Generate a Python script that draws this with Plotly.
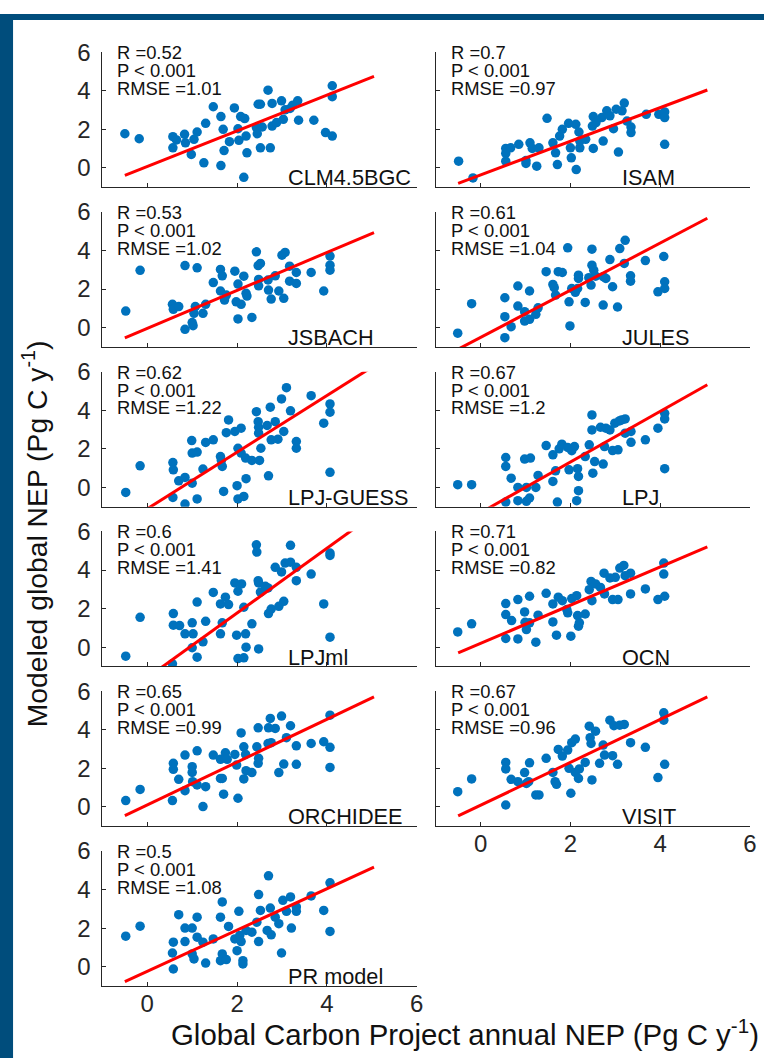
import plotly.graph_objects as go

W, H = 771, 1058

models = ["CLM4.5BGC", "ISAM", "JSBACH", "JULES", "LPJ-GUESS", "LPJ",
          "LPJml", "OCN", "ORCHIDEE", "VISIT", "PR model"]
r_vals = ["0.52", "0.7", "0.53", "0.61", "0.62", "0.67", "0.6", "0.71", "0.65", "0.67", "0.5"]
rmse_vals = ["1.01", "0.97", "1.02", "1.04", "1.22", "1.2", "1.41", "0.82", "0.99", "0.96", "1.08"]
slopes = [0.926, 0.872, 0.984, 1.223, 1.468, 1.314, 1.678, 0.991, 1.110, 1.112, 1.072]
intercepts = [0.071, -0.365, -0.038, -0.505, -1.109, -1.31, -1.583, 0.195, 0.105, 0.087, -0.244]
fit_x = [-0.5, 5.05]

clm_x = [-0.50, -0.18, 0.57, 0.57, 0.65, 0.83, 0.85, 0.98, 1.04, 1.11, 1.26, 1.30, 1.47, 1.64, 1.64, 1.69, 1.71, 1.83, 1.94, 2.02, 2.04, 2.08, 2.15, 2.17, 2.20, 2.22, 2.43, 2.45, 2.47, 2.52, 2.52, 2.56, 2.69, 2.74, 2.78, 2.78, 2.88, 2.99, 3.03, 3.07, 3.18, 3.24, 3.35, 3.37, 3.71, 3.97, 4.12, 4.12, 4.12]
clm_y = [1.77, 1.51, 1.62, 1.04, 1.45, 1.74, 1.30, 0.70, 1.48, 1.86, 0.26, 2.31, 3.17, 2.66, 0.12, 2.00, 0.90, 1.36, 3.11, 2.03, 1.43, 2.66, -0.49, 2.56, 1.65, 0.78, 2.09, 1.77, 3.30, 3.30, 1.04, 2.12, 4.03, 1.04, 3.34, 2.17, 2.35, 3.48, 2.52, 3.01, 3.08, 3.25, 3.48, 2.47, 2.47, 1.83, 4.26, 3.69, 1.65]

isam_x = [-0.49, -0.17, 0.56, 0.56, 0.56, 0.67, 0.85, 1.01, 1.01, 1.10, 1.15, 1.25, 1.30, 1.48, 1.61, 1.67, 1.71, 1.76, 1.82, 1.96, 2.00, 2.02, 2.12, 2.13, 2.19, 2.21, 2.21, 2.34, 2.49, 2.51, 2.51, 2.57, 2.70, 2.73, 2.81, 2.88, 2.96, 3.02, 3.07, 3.15, 3.20, 3.26, 3.35, 3.35, 3.69, 3.97, 4.10, 4.10, 4.10]
isam_y = [0.35, -0.52, 1.01, 0.75, 0.35, 1.04, 1.22, 0.38, 0.23, 1.30, 1.01, 0.09, 1.04, 2.57, 1.30, 0.78, 0.17, 1.65, 2.00, 2.31, 1.04, 0.52, 2.26, -0.09, 1.86, 1.04, 1.39, 1.48, 2.17, 2.66, 1.01, 2.35, 2.61, 1.39, 2.96, 2.70, 2.03, 3.04, 0.82, 2.96, 3.36, 2.43, 2.12, 1.83, 2.78, 2.78, 2.90, 2.61, 1.22]

jsbach_x = [-0.48, -0.16, 0.56, 0.58, 0.70, 0.84, 0.84, 1.00, 1.02, 1.07, 1.11, 1.04, 1.24, 1.30, 1.47, 1.63, 1.67, 1.63, 1.72, 1.76, 1.95, 2.02, 1.98, 2.09, 2.02, 2.15, 2.20, 2.22, 2.33, 2.43, 2.47, 2.52, 2.48, 2.48, 2.69, 2.70, 2.76, 2.85, 2.93, 3.00, 3.07, 3.04, 3.17, 3.17, 3.32, 3.32, 3.65, 3.93, 4.07, 4.07, 4.07]
jsbach_y = [0.86, 2.97, 1.21, 0.95, 1.09, 3.22, -0.09, 0.26, 0.10, 1.09, 3.10, 0.74, 0.74, 1.21, 2.34, 3.02, 2.69, 1.90, 1.43, 1.69, 2.93, 2.26, 1.34, 1.21, 0.45, 2.67, 1.78, 1.64, 0.53, 3.93, 3.22, 3.33, 2.50, 2.17, 2.47, 1.95, 1.48, 2.69, 1.90, 3.76, 3.90, 1.52, 3.19, 2.41, 2.86, 2.29, 2.86, 1.90, 3.71, 3.24, 2.98]

jules_x = [-0.51, -0.20, 0.54, 0.54, 0.54, 0.68, 0.83, 0.83, 0.98, 0.98, 1.09, 1.09, 1.23, 1.28, 1.46, 1.61, 1.64, 1.67, 1.73, 1.82, 1.94, 1.97, 1.99, 2.03, 2.11, 2.16, 2.18, 2.18, 2.33, 2.41, 2.46, 2.48, 2.48, 2.52, 2.56, 2.73, 2.73, 2.79, 2.88, 2.94, 3.05, 3.10, 3.20, 3.22, 3.34, 3.34, 3.67, 3.95, 4.08, 4.10, 4.10]
jules_y = [-0.29, 1.24, 1.55, 0.57, -0.52, 0.05, 2.16, 1.12, 0.83, 0.34, 1.90, 0.43, 0.69, 1.03, 2.90, 2.24, 2.07, 1.69, 2.90, 2.86, 4.14, 1.34, 0.09, 2.03, 1.83, 2.03, 2.72, 2.55, 1.31, 2.59, 2.21, 4.07, 3.24, 2.98, 2.67, 1.17, 2.64, 2.55, 3.53, 2.12, 1.07, 4.10, 3.33, 4.53, 2.69, 2.41, 3.48, 1.86, 3.69, 2.38, 2.03]

guess_x = [-0.48, -0.16, 0.57, 0.58, 0.57, 0.70, 0.84, 0.84, 0.99, 1.00, 1.00, 1.11, 1.11, 1.24, 1.30, 1.47, 1.63, 1.65, 1.67, 1.70, 1.76, 1.81, 1.95, 2.00, 2.02, 2.02, 2.09, 2.09, 2.15, 2.19, 2.20, 2.33, 2.43, 2.47, 2.48, 2.48, 2.50, 2.53, 2.67, 2.70, 2.74, 2.76, 2.85, 2.91, 2.99, 3.04, 3.10, 3.19, 3.32, 3.32, 3.65, 3.93, 4.07, 4.07, 4.07]
guess_y = [-0.26, 1.12, 1.29, 0.91, -0.52, 0.34, 0.52, -0.86, 2.43, 1.78, 0.22, 1.83, -0.60, 0.95, 2.33, 2.47, 1.60, 1.40, 1.09, -0.21, 2.84, 3.50, 2.90, 0.09, 2.03, -0.60, 3.07, 1.78, -0.47, 1.52, 0.45, 1.40, 3.93, 3.41, 3.12, 2.81, 1.40, 2.03, 3.21, 0.60, 4.16, 2.47, 3.41, 2.50, 4.59, 2.90, 5.17, 3.97, 2.38, 2.03, 4.76, 3.33, 4.33, 3.90, 0.78]

lpj_x = [-0.51, -0.20, 0.56, 0.56, 0.56, 0.68, 0.83, 0.83, 0.98, 1.02, 1.02, 1.11, 1.09, 1.23, 1.28, 1.46, 1.61, 1.61, 1.67, 1.71, 1.75, 1.81, 1.94, 1.97, 2.03, 2.09, 2.14, 2.16, 2.18, 2.18, 2.33, 2.42, 2.48, 2.48, 2.50, 2.54, 2.67, 2.73, 2.76, 2.79, 2.88, 2.94, 2.99, 3.06, 3.09, 3.14, 3.22, 3.22, 3.35, 3.35, 3.67, 3.95, 4.10, 4.10, 4.10]
lpj_y = [0.14, 0.14, 1.55, 1.09, -0.76, 0.48, 0.00, -0.69, 1.47, 0.00, -0.72, 1.52, -0.55, 0.00, 0.62, 2.17, 1.69, 0.31, 0.86, -0.76, 2.00, 2.24, 2.07, 0.91, 1.90, 2.12, -0.69, 0.97, 0.57, -0.17, 1.60, 2.21, 3.76, 2.98, 0.74, 1.34, 3.12, 1.21, 2.12, 3.07, 2.98, 1.91, 3.33, 1.95, 3.45, 3.50, 3.55, 2.81, 2.34, 2.90, 2.47, 3.07, 3.84, 3.55, 0.97]

lpjml_x = [-0.48, -0.16, 0.56, 0.58, 0.58, 0.72, 0.84, 1.00, 1.02, 1.00, 1.11, 1.11, 1.24, 1.30, 1.47, 1.63, 1.63, 1.67, 1.74, 1.81, 1.95, 1.99, 2.02, 2.02, 2.10, 2.15, 2.15, 2.19, 2.20, 2.33, 2.43, 2.44, 2.47, 2.48, 2.48, 2.52, 2.63, 2.69, 2.70, 2.76, 2.85, 2.93, 2.99, 3.04, 3.07, 3.19, 3.19, 3.32, 3.32, 3.65, 3.93, 4.07, 4.07, 4.07]
lpjml_y = [-0.47, 1.55, -0.86, 1.74, 1.14, 1.12, 0.69, 1.26, 0.69, -0.03, 2.34, -0.52, 0.28, 1.34, 2.84, 2.24, 0.69, 1.26, 2.59, 2.21, 3.33, 0.62, 2.90, -0.59, 3.28, 2.07, -0.55, 0.69, 0.00, 1.21, 5.31, 4.93, 3.45, 3.33, -0.09, 2.86, 3.16, 3.07, 1.74, 1.98, 4.14, 2.12, 3.90, 2.38, 4.36, 5.28, 4.41, 4.14, 3.45, 3.79, 2.24, 4.88, 4.76, 0.52]

ocn_x = [-0.51, -0.20, 0.56, 0.56, 0.56, 0.69, 0.83, 0.83, 0.98, 0.99, 1.02, 1.09, 1.09, 1.23, 1.28, 1.46, 1.61, 1.61, 1.69, 1.73, 1.82, 1.92, 1.94, 2.01, 2.03, 2.14, 2.16, 2.18, 2.20, 2.33, 2.42, 2.46, 2.48, 2.56, 2.67, 2.75, 2.76, 2.88, 2.94, 3.00, 3.06, 3.10, 3.19, 3.22, 3.34, 3.34, 3.67, 3.95, 4.08, 4.08, 4.10]
ocn_y = [0.79, 1.21, 2.26, 1.69, 0.45, 1.38, 2.47, 0.43, 1.83, 1.29, 0.91, 2.64, 1.26, 0.26, 1.66, 2.79, 2.24, 1.31, 0.62, 2.59, 2.41, 1.95, 1.78, 0.57, 2.52, 2.67, 1.64, 1.09, 1.26, 1.72, 2.98, 3.41, 2.41, 3.28, 3.10, 3.84, 2.76, 3.59, 2.47, 3.62, 2.47, 4.10, 4.24, 3.71, 3.84, 2.76, 3.02, 2.47, 4.36, 3.79, 2.64]

orch_x = [-0.48, -0.16, 0.56, 0.58, 0.58, 0.70, 0.84, 0.84, 1.00, 1.00, 1.01, 1.11, 1.11, 1.24, 1.30, 1.47, 1.63, 1.63, 1.67, 1.70, 1.74, 1.78, 1.95, 1.99, 2.02, 2.09, 2.15, 2.15, 2.19, 2.20, 2.33, 2.44, 2.47, 2.48, 2.47, 2.69, 2.70, 2.74, 2.76, 2.85, 2.93, 2.99, 3.04, 3.10, 3.19, 3.32, 3.32, 3.65, 3.93, 4.07, 4.07, 4.07]
orch_y = [0.33, 0.91, 0.33, 2.26, 1.95, 1.43, 2.69, 0.84, 2.09, 1.79, 1.31, 2.91, 1.14, 0.02, 1.05, 2.69, 2.47, 1.48, 1.48, 0.66, 2.81, 2.47, 2.72, 2.17, 0.45, 3.84, 3.12, 1.45, 2.72, 1.88, 1.78, 3.12, 4.10, 2.52, 2.26, 3.29, 4.10, 4.59, 3.33, 4.07, 1.78, 4.71, 2.22, 3.59, 4.21, 3.17, 2.21, 3.29, 3.38, 4.76, 3.09, 2.05]

visit_x = [-0.51, -0.20, 0.56, 0.56, 0.56, 0.68, 0.83, 0.98, 1.02, 1.07, 1.09, 1.23, 1.30, 1.46, 1.61, 1.66, 1.69, 1.73, 1.82, 1.94, 1.97, 2.01, 2.03, 2.11, 2.11, 2.18, 2.20, 2.33, 2.42, 2.44, 2.46, 2.48, 2.56, 2.65, 2.73, 2.76, 2.88, 2.94, 2.97, 3.05, 3.10, 3.20, 3.34, 3.67, 3.95, 4.08, 4.08, 4.10]
visit_y = [0.79, 1.45, 2.31, 1.97, 0.10, 1.43, 1.31, 1.78, 1.22, 1.31, 2.29, 0.62, 0.62, 2.52, 1.79, 1.31, 1.17, 2.98, 2.64, 2.95, 2.00, 0.71, 3.33, 3.52, 1.79, 1.48, 1.97, 2.31, 4.19, 3.59, 3.29, 1.40, 3.93, 2.26, 3.21, 2.69, 4.50, 2.66, 4.21, 2.21, 4.24, 4.28, 3.33, 3.09, 1.52, 4.88, 4.50, 2.21]

pr_x = [-0.48, -0.16, 0.58, 0.56, 0.58, 0.70, 0.84, 0.84, 1.00, 1.00, 1.04, 1.11, 1.11, 1.24, 1.30, 1.47, 1.63, 1.67, 1.67, 1.63, 1.76, 1.81, 1.95, 2.00, 2.04, 2.06, 2.09, 2.13, 2.13, 2.20, 2.33, 2.44, 2.48, 2.48, 2.52, 2.67, 2.70, 2.74, 2.76, 2.85, 2.93, 2.99, 3.02, 3.10, 3.19, 3.21, 3.32, 3.32, 3.65, 3.93, 4.07, 4.07]
pr_y = [1.58, 2.10, 1.27, 0.71, -0.12, 2.70, 2.00, 1.30, 2.00, 0.66, 0.40, 2.57, 1.53, 1.27, 0.19, 1.44, 2.57, 3.36, 0.66, 0.31, 0.37, 2.09, 1.44, 0.83, 2.87, 1.62, 1.30, 0.31, 0.14, 1.88, 1.79, 2.31, 3.74, 1.30, 2.92, 1.88, 4.71, 3.04, 1.65, 2.57, 2.23, 0.71, 3.44, 2.87, 3.62, 2.00, 3.10, 2.87, 3.67, 2.92, 4.35, 1.83]

xs = [clm_x, isam_x, jsbach_x, jules_x, guess_x, lpj_x, lpjml_x, ocn_x, orch_x, visit_x, pr_x]
ys = [clm_y, isam_y, jsbach_y, jules_y, guess_y, lpj_y, lpjml_y, ocn_y, orch_y, visit_y, pr_y]

ticks = [0, 2, 4, 6]
axis_range = [-1, 6]

FONT = "Liberation Sans, Arial, Helvetica, sans-serif"
AX = "#262626"
TXT = "#111111"
BLUE = "#0072BD"
FRAME = "#004d7c"

# the photographed page shows the figure slightly scaled and shifted; map target pixels
K, OY = 0.987, 13.8


def fx(px):
    return px / K


def fy(py):
    return (py - OY) / K


col_x = [(102, 415), (434, 747)]
row_top0, row_pitch, row_h = 52, 159.8, 135

fig = go.Figure()
layout = dict(
    width=W, height=H, margin=dict(l=0, r=0, t=0, b=0),
    paper_bgcolor="white", plot_bgcolor="white", showlegend=False,
    font=dict(family=FONT, color=AX),
)
annotations = []

for i, name in enumerate(models):
    row, col = divmod(i, 2)
    n = i + 1
    xa = "x" if n == 1 else f"x{n}"
    ya = "y" if n == 1 else f"y{n}"
    x0, x1 = col_x[col]
    top = row_top0 + row_pitch * row
    bot = top + row_h
    show_x = (row == 5) or (row == 4 and col == 1)
    show_y = col == 0
    layout["xaxis" if n == 1 else f"xaxis{n}"] = dict(
        domain=[fx(x0) / W, fx(x1) / W], anchor=ya, range=axis_range, tickvals=ticks,
        showticklabels=show_x, ticks="inside", ticklen=4, tickcolor=AX, tickwidth=1,
        showline=True, linecolor=AX, linewidth=1, showgrid=False, zeroline=False,
        tickfont=dict(size=24, family=FONT, color=AX), ticklabelstandoff=-4,
    )
    layout["yaxis" if n == 1 else f"yaxis{n}"] = dict(
        domain=[1 - fy(bot) / H, 1 - fy(top) / H], anchor=xa, range=axis_range, tickvals=ticks,
        showticklabels=show_y, ticks="inside", ticklen=4, tickcolor=AX, tickwidth=1,
        showline=True, linecolor=AX, linewidth=1, showgrid=False, zeroline=False,
        tickfont=dict(size=24, family=FONT, color=AX), ticklabelstandoff=6,
    )
    fig.add_trace(go.Scatter(x=xs[i], y=ys[i], mode="markers", xaxis=xa, yaxis=ya,
                             marker=dict(color=BLUE, size=9.5, line=dict(width=0))))
    fy_line = [intercepts[i] + slopes[i] * v for v in fit_x]
    fig.add_trace(go.Scatter(x=fit_x, y=fy_line, mode="lines", xaxis=xa, yaxis=ya,
                             line=dict(color="#FF0000", width=3)))
    stats = [f"R ={r_vals[i]}", "P < 0.001", f"RMSE ={rmse_vals[i]}"]
    for txt, yy in zip(stats, [5.98, 5.05, 4.12]):
        annotations.append(dict(x=-0.71, y=yy, xref=xa, yref=ya, text=txt, showarrow=False,
                                xanchor="left", yanchor="middle",
                                font=dict(size=18.4, family=FONT, color=TXT)))
    annotations.append(dict(x=3.1, y=-0.52, xref=xa, yref=ya, text=name, showarrow=False,
                            xanchor="left", yanchor="middle",
                            font=dict(size=21.7, family=FONT, color=TXT)))

annotations.append(dict(x=fx(35) / W, y=1 - fy(534) / H, xref="paper", yref="paper",
                        text="Modeled global NEP (Pg C y<sup>-1</sup>)", textangle=-90,
                        showarrow=False, xanchor="center", yanchor="middle",
                        font=dict(size=28.3, family=FONT, color=TXT)))
annotations.append(dict(x=fx(463) / W, y=1 - fy(1033) / H, xref="paper", yref="paper",
                        text="Global Carbon Project annual NEP (Pg C y<sup>-1</sup>)",
                        showarrow=False, xanchor="center", yanchor="middle",
                        font=dict(size=29.4, family=FONT, color=TXT)))
layout["annotations"] = annotations
layout["shapes"] = [
    dict(type="rect", xref="paper", yref="paper", x0=0, x1=fx(13) / W, y0=0, y1=1,
         fillcolor=FRAME, line=dict(width=0), layer="above"),
    dict(type="rect", xref="paper", yref="paper", x0=0, x1=1, y0=1 - 6 / H, y1=1,
         fillcolor=FRAME, line=dict(width=0), layer="above"),
]
fig.update_layout(**layout)
fig.write_html(
    "out.html",
    config={"displayModeBar": False, "staticPlot": True},
    post_script=(
        "document.documentElement.style.margin='0';document.body.style.margin='0';"
        "document.body.style.padding='0';document.body.style.overflow='hidden';"
        "document.documentElement.style.overflow='hidden';"
    ),
)
